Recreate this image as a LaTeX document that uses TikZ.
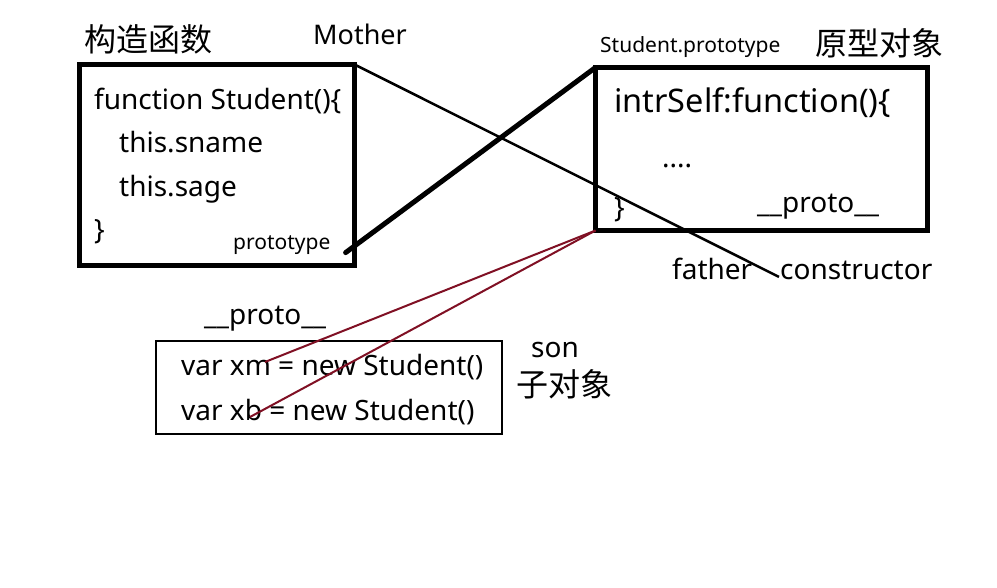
\documentclass[tikz,border=0pt]{standalone}
\usepackage{fontspec}
\setmainfont{Noto Sans}
\newfontfamily\cjk{Noto Sans CJK SC}
\definecolor{maroon}{RGB}{128,16,36}
\begin{document}
\begin{tikzpicture}[x=1pt,y=-1pt,
  txt/.style={inner sep=0pt,anchor=base west,font=\fontsize{28}{32}\selectfont},
  small/.style={inner sep=0pt,anchor=base west,font=\fontsize{21}{24}\selectfont},
  big/.style={inner sep=0pt,anchor=base west,font=\fontsize{32.5}{36}\selectfont},
  han/.style={inner sep=0pt,anchor=base west,font=\cjk\fontsize{32}{36}\selectfont},
  thickbox/.style={draw,line width=5pt,rectangle,anchor=north west,inner sep=0pt,outer sep=0pt},
  thinbox/.style={draw,line width=2pt,rectangle,anchor=north west,inner sep=0pt,outer sep=0pt},
  link/.style={line width=2.5pt},
  thicklink/.style={line width=5pt,line cap=round},
  redlink/.style={line width=2pt,draw=maroon}]
\useasboundingbox[fill=white] (0,0) rectangle (997,588);
% boxes
\node[thickbox,minimum width=275pt,minimum height=201pt] (lbox) at (79.5,64.5) {};
\node[thickbox,minimum width=332pt,minimum height=163pt] (rbox) at (595.5,67.5) {};
\node[thinbox,minimum width=346pt,minimum height=93pt] (bbox) at (156,341) {};
% left box texts
\node[han] (ctor) at (84,52) {构造函数};
\node[txt,font=\fontsize{27}{30}\selectfont] (mother) at (313,45) {Mother};
\node[txt] (l1) at (94,110) {function Student()\{};
\node[txt] (l2) at (119,153) {this.sname};
\node[txt] (l3) at (119,197) {this.sage};
\node[txt] (l4) at (94,240) {\}};
\node[small] (proto) at (233,250) {prototype};
% right box texts
\node[small] (sproto) at (600,53) {Student.prototype};
\node[han] (yuan) at (815,56) {原型对象};
\node[big] (r1) at (614,113) {intrSelf:function()\{};
\node[txt] (r2) at (662,168) {....};
\node[txt] (r3) at (614,218) {\}};
\node[txt] (rp) at (757,213) {\_\_proto\_\_};
\node[txt] (father) at (672,280) {father};
\node[txt] (constr) at (780,280) {constructor};
% bottom texts
\node[txt] (bp) at (204,325) {\_\_proto\_\_};
\node[txt] (xm) at (181,375) {var xm = new Student()};
\node[txt] (xb) at (181,420) {var xb = new Student()};
\node[txt] (son) at (531,358) {son};
\node[han] (zi) at (516,396) {子对象};
% connectors
\coordinate (pend) at ([xshift=15pt,yshift=-7pt]proto.east);
\draw[thicklink] (pend) -- (rbox.north west);
\draw[link] (lbox.north east) -- ([xshift=-1pt,yshift=-6pt]constr.west);
\coordinate (xmend) at (265,362);
\coordinate (xbend) at (250,417);
\draw[redlink] (rbox.south west) -- (xmend);
\draw[redlink] (rbox.south west) -- (xbend);
\end{tikzpicture}
\end{document}
